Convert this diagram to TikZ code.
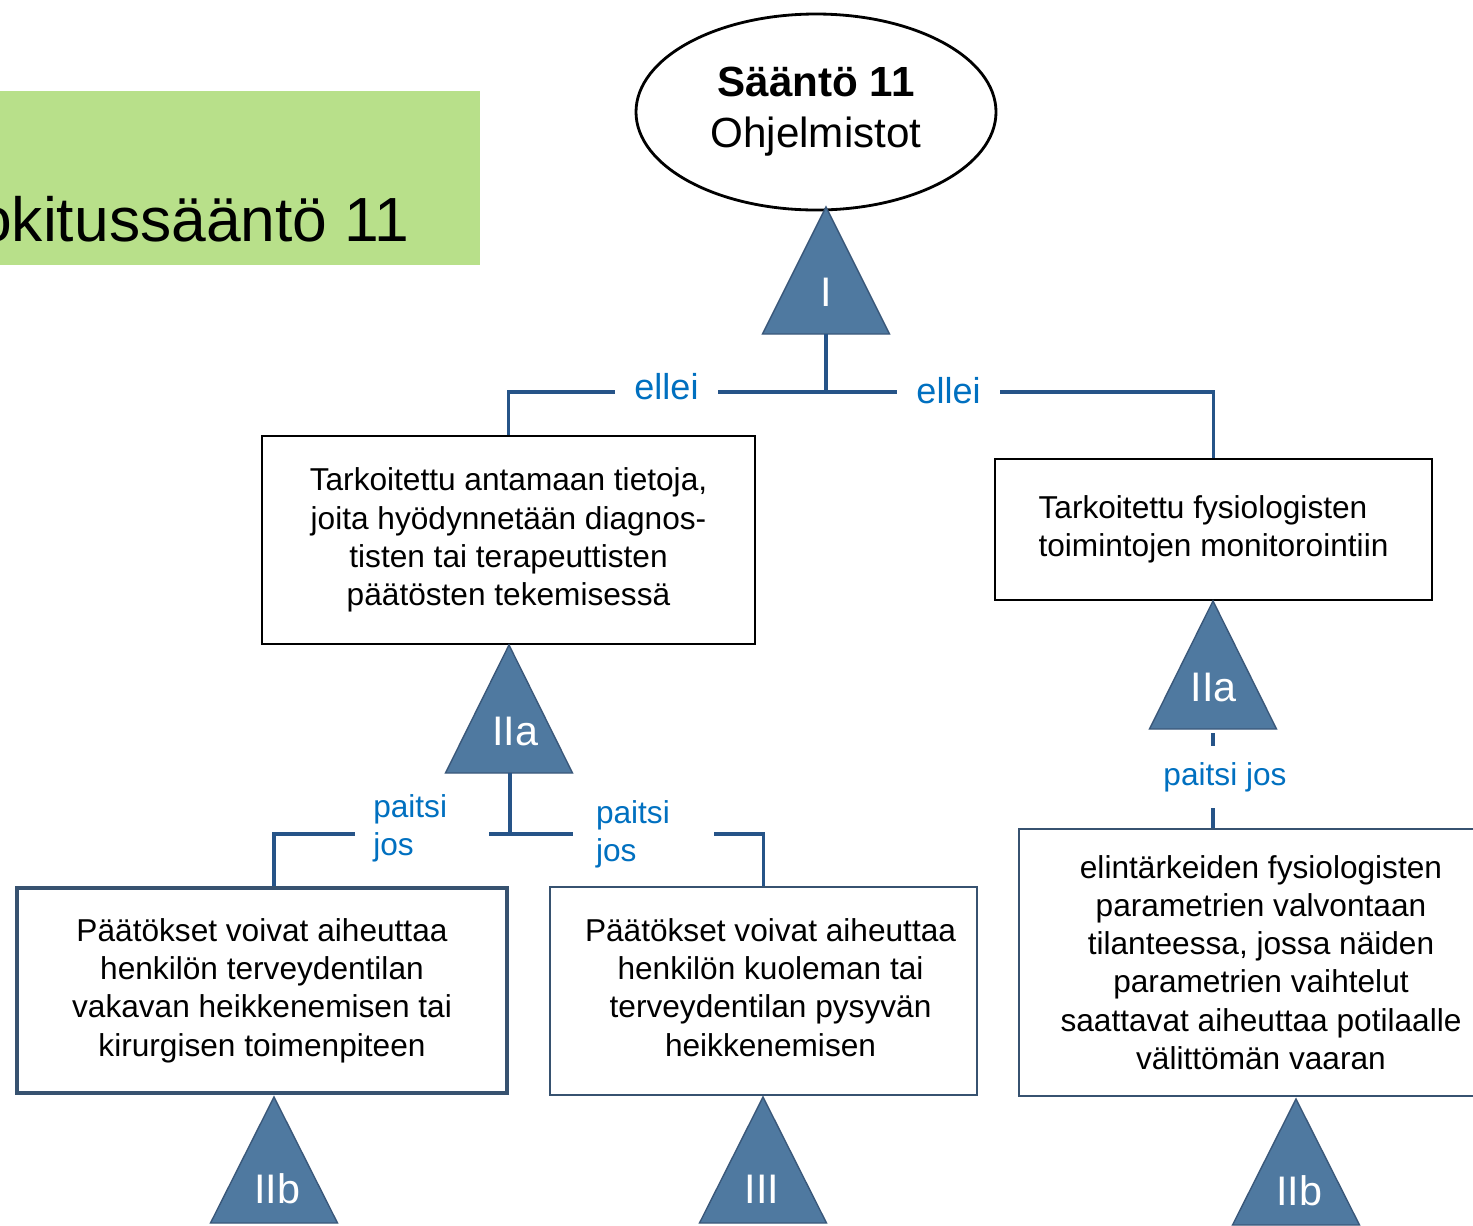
\documentclass[tikz,border=0pt]{standalone}
\usepackage{fontspec}
\setmainfont{Liberation Sans}
\usetikzlibrary{shapes.geometric,positioning}
\definecolor{rulegreen}{RGB}{184,224,138}
\definecolor{clsfill}{RGB}{79,121,160}
\definecolor{clsdraw}{RGB}{58,88,122}
\definecolor{connblue}{RGB}{38,84,136}
\definecolor{lblblue}{RGB}{0,112,192}
\definecolor{boxslate}{RGB}{55,82,112}

\begin{document}
\begin{tikzpicture}[x=0.2mm,y=-0.2mm,
    box/.style={draw=black,line width=1.2pt,align=center,inner sep=0pt,font=\fontsize{18}{21.8}\selectfont},
    lowbox/.style={box,draw=boxslate,line width=1.4pt},
    cls/.style={draw=clsdraw,fill=clsfill,line width=0.8pt},
    clslbl/.style={text=white,inner sep=0pt,font=\fontsize{23.5}{28}\selectfont},
    conn/.style={draw=connblue,line width=1.9pt},
    cond/.style={fill=white,text=lblblue,inner xsep=11pt,inner ysep=2pt,font=\fontsize{18}{21.8}\selectfont}]
  \useasboundingbox (0,0) rectangle (1473,1225);
  \clip (0,0) rectangle (1473,1225);
  % title
  \fill[rulegreen] (0,91) rectangle (480,265);
  \node[anchor=base east,inner sep=0pt,font=\fontsize{35.5}{40}\selectfont] (title) at (410,241) {Luokitussääntö 11};
  % rule and boxes
  \node[ellipse,draw,line width=1.6pt,minimum width=72mm,minimum height=39.2mm,align=center,
        font=\fontsize{24}{29}\selectfont] (rule) at (816,112) {\textbf{Sääntö 11}\\Ohjelmistot};
  \node[box,minimum width=98.6mm,minimum height=41.6mm] (diag) at (508.5,540)
    {Tarkoitettu antamaan tietoja,\\joita hyödynnetään diagnos-\\tisten tai terapeuttisten\\päätösten tekemisessä};
  \node[box,align=left,minimum width=87.4mm,minimum height=28.2mm,text depth=4pt] (mon) at (1213.5,529.5)
    {Tarkoitettu fysiologisten\\toimintojen monitorointiin};
  \node[lowbox,line width=2pt,minimum width=98mm,minimum height=41mm] (sev) at (262,990.5)
    {Päätökset voivat aiheuttaa\\henkilön terveydentilan\\vakavan heikkenemisen tai\\kirurgisen toimenpiteen};
  \node[lowbox,minimum width=85.4mm,minimum height=41.6mm] (death) at (763.5,991)
    {\hspace*{8pt}\begin{tabular}{@{}c@{}}Päätökset voivat aiheuttaa\\henkilön kuoleman tai\\terveydentilan pysyvän\\heikkenemisen\end{tabular}};
  \node[lowbox,minimum width=96.8mm,minimum height=53.4mm] (vital) at (1261,962.5)
    {elintärkeiden fysiologisten\\parametrien valvontaan\\tilanteessa, jossa näiden\\parametrien vaihtelut\\saattavat aiheuttaa potilaalle\\välittömän vaaran};
  % classes
  \draw[cls] (826,207) -- (889.5,334) -- (762.5,334) -- cycle;
  \node[clslbl] (cI) at (826,292) {I};
  \coordinate (cIb) at (826,334);
  \draw[cls] (509,645) -- (572.5,773) -- (445.5,773) -- cycle;
  \node[clslbl] (cIIa) at (515,731) {IIa};
  \coordinate (cIIab) at (510,773);
  \draw[cls] (1213,601) -- (1276.5,729) -- (1149.5,729) -- cycle;
  \node[clslbl] (cIIa2) at (1213.5,687) {IIa};
  \coordinate (cIIa2b) at (1213,733);
  \draw[cls] (274,1097) -- (337.5,1223) -- (210.5,1223) -- cycle;
  \node[clslbl] (cIIb) at (277,1189) {IIb};
  \draw[cls] (763,1097) -- (826.5,1223) -- (699.5,1223) -- cycle;
  \node[clslbl] (cIII) at (762,1189) {III};
  \draw[cls] (1296,1099) -- (1359.5,1225) -- (1232.5,1225) -- cycle;
  \node[clslbl] (cIIb2) at (1299,1191) {IIb};
  % connectors
  \coordinate (j0) at (826,392);
  \draw[conn] (cIb) -- (j0);
  \draw[conn] (diag.north) |- (j0) -| (mon.north);
  \node[cond,font=\fontsize{20.5}{24}\selectfont] (e1) at (666.5,387) {ellei};
  \node[cond,font=\fontsize{20.5}{24}\selectfont] (e2) at (948.5,391) {ellei};
  \coordinate (j1) at (510,834);
  \draw[conn] (cIIab) -- (j1);
  \draw[conn] (sev.north -| cIIb) ++(-3,0) |- (j1) -| (death.north);
  \node[cond,align=left,text width=19.5mm,inner xsep=10.5pt] (p1) at (422,828) {paitsi\\jos};
  \node[cond,align=left,text width=19mm,inner xsep=13pt] (p2) at (643.5,834) {paitsi\\jos};
  \draw[conn] (cIIa2b) -- (cIIa2b |- vital.north);
  \node[cond,inner ysep=9pt] (p3) at (1225,777) {paitsi jos};
\end{tikzpicture}
\end{document}
